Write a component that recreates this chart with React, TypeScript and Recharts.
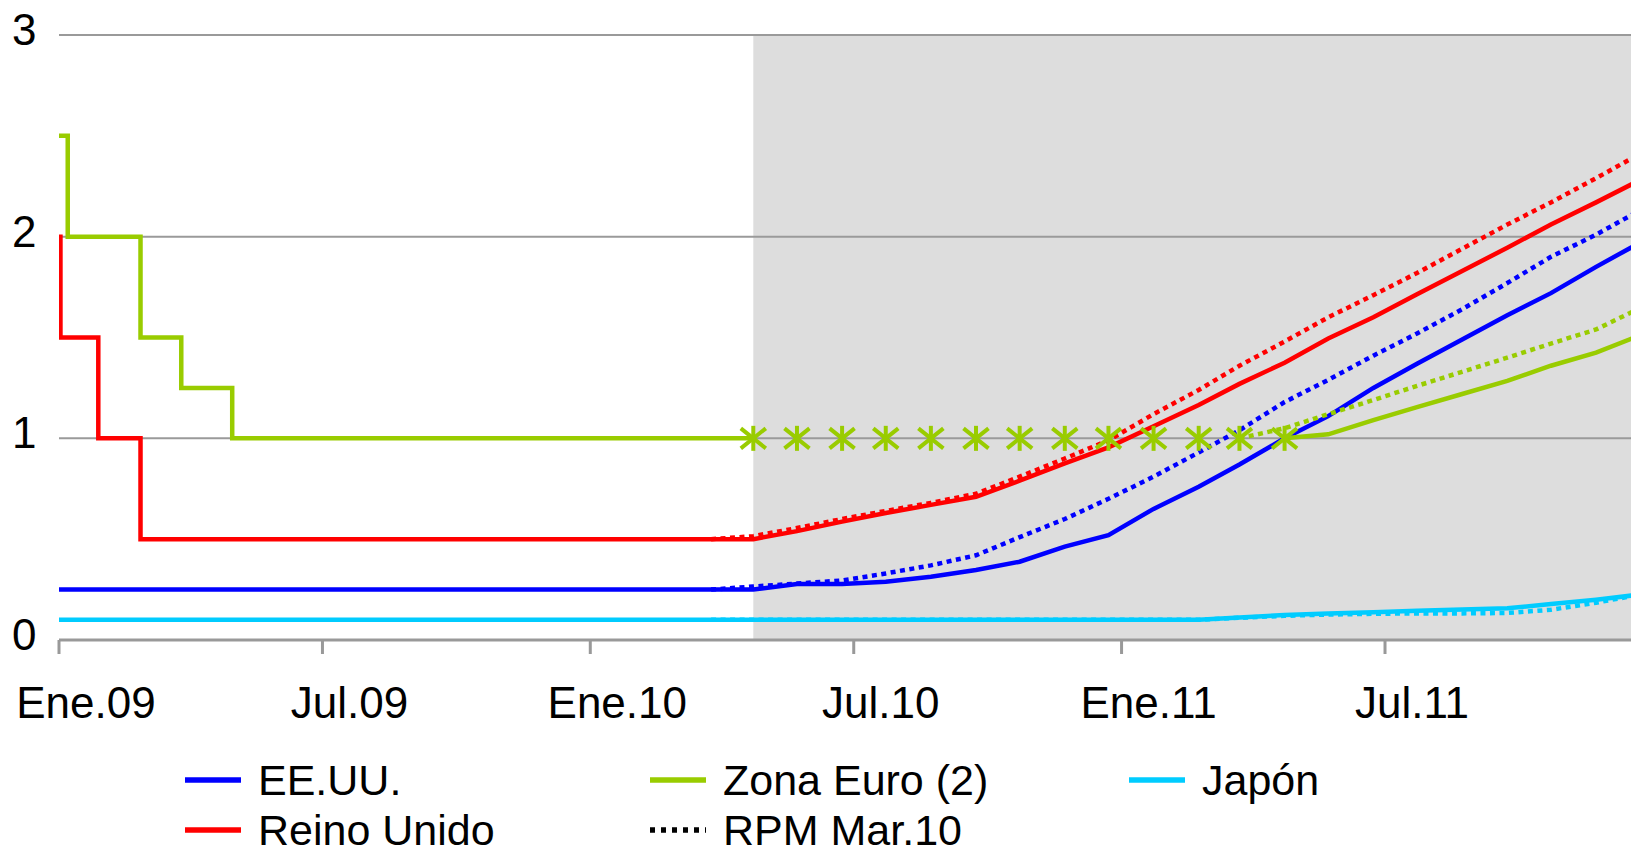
import { LineChart, Line, XAxis, YAxis, ReferenceArea, ReferenceLine } from "recharts";

const ORIGIN = Date.UTC(2009, 0, 1);
const toDay = (s: string) => (Date.parse(s + "T00:00:00Z") - ORIGIN) / 86400000;

const tickDates = ["2009-01-01", "2009-07-01", "2010-01-01", "2010-07-01", "2011-01-01", "2011-07-01"];
const tickLabels = ["Ene.09", "Jul.09", "Ene.10", "Jul.10", "Ene.11", "Jul.11"];
const yTicks = [0, 1, 2, 3];
const lastDay = 1080;

// tasas observadas: fecha del cambio y nuevo nivel
const usaSteps: [string, number][] = [["2009-01-01", 0.25]];
const ukSteps: [string, number][] = [["2009-01-01", 2.0], ["2009-01-02", 1.5], ["2009-01-28", 1.0], ["2009-02-26", 0.5]];
const euroSteps: [string, number][] = [["2009-01-01", 2.5], ["2009-01-07", 2.0], ["2009-02-26", 1.5], ["2009-03-26", 1.25], ["2009-04-30", 1.0]];
const japanSteps: [string, number][] = [["2009-01-01", 0.1]];

// curvas forward actuales (zona gris)
const forwardDates = [
  "2010-04-23", "2010-05-23", "2010-06-23", "2010-07-23", "2010-08-23", "2010-09-23", "2010-10-23",
  "2010-11-23", "2010-12-23", "2011-01-23", "2011-02-23", "2011-03-23", "2011-04-23", "2011-05-23",
  "2011-06-23", "2011-07-23", "2011-08-23", "2011-09-23", "2011-10-23", "2011-11-23", "2011-12-23",
];
const usaForward = [0.25, 0.278, 0.278, 0.289, 0.314, 0.347, 0.388, 0.463, 0.52, 0.65, 0.76, 0.87, 1.0, 1.11, 1.25, 1.37, 1.49, 1.61, 1.72, 1.85, 1.97];
const ukForward = [0.5, 0.54, 0.587, 0.63, 0.67, 0.71, 0.79, 0.876, 0.955, 1.06, 1.165, 1.27, 1.375, 1.495, 1.6, 1.715, 1.83, 1.945, 2.06, 2.17, 2.28];
const japanForward = [0.1, 0.1, 0.1, 0.1, 0.1, 0.1, 0.1, 0.1, 0.1, 0.1, 0.1, 0.112, 0.124, 0.131, 0.138, 0.145, 0.151, 0.157, 0.178, 0.2, 0.225];
const euroMarks = [1, 1, 1, 1, 1, 1, 1, 1, 1, 1, 1, 1, 1];
const euroForward = [1.0, 1.02, 1.09, 1.155, 1.22, 1.285, 1.36, 1.425, 1.51];

// RPM Mar.10 (punteadas)
const rpmDates = ["2010-03-25", ...forwardDates];
const usaRpm = [0.25, 0.265, 0.28, 0.295, 0.33, 0.37, 0.42, 0.51, 0.6, 0.7, 0.81, 0.93, 1.04, 1.18, 1.29, 1.41, 1.52, 1.64, 1.77, 1.9, 2.01, 2.13];
const ukRpm = [0.5, 0.515, 0.555, 0.6, 0.64, 0.68, 0.725, 0.81, 0.9, 0.99, 1.12, 1.24, 1.36, 1.48, 1.6, 1.71, 1.82, 1.94, 2.06, 2.17, 2.29, 2.41];
const japanRpm = [0.1, 0.1, 0.1, 0.1, 0.1, 0.1, 0.1, 0.1, 0.1, 0.1, 0.1, 0.1, 0.11, 0.12, 0.126, 0.13, 0.132, 0.132, 0.134, 0.15, 0.185, 0.225];
const euroRpm = [1.0, 1.05, 1.12, 1.19, 1.26, 1.33, 1.4, 1.47, 1.54, 1.645];

const BLUE = "#0000FF";
const RED = "#FF0000";
const GREEN = "#99CC00";
const CYAN = "#00CCFF";
const FONT = "'Liberation Sans', Arial, sans-serif";

type Pt = { day: number; v: number };

function series(steps: [string, number][], dates: string[], values: number[]): Pt[] {
  const pts: Pt[] = [];
  steps.forEach(([d, v], i) => {
    if (i > 0) pts.push({ day: toDay(d), v: steps[i - 1][1] });
    pts.push({ day: toDay(d), v });
  });
  dates.forEach((d, i) => pts.push({ day: toDay(d), v: values[i] }));
  return pts;
}

const usaData = series(usaSteps, forwardDates, usaForward);
const ukData = series(ukSteps, forwardDates, ukForward);
const japanData = series(japanSteps, forwardDates, japanForward);
const euroHist = series(euroSteps, forwardDates.slice(0, 1), euroMarks.slice(0, 1));
const euroMarkData = series([], forwardDates.slice(0, euroMarks.length), euroMarks);
const euroFwdData = series([], forwardDates.slice(12), euroForward);
const usaRpmData = series([], rpmDates, usaRpm);
const ukRpmData = series([], rpmDates, ukRpm);
const japanRpmData = series([], rpmDates, japanRpm);
const euroRpmData = series([], forwardDates.slice(11), euroRpm);

const tickDays = tickDates.map(toDay);

const XTick = ({ x, payload }: any) => {
  const i = tickDays.indexOf(payload.value);
  return (
    <text x={x + 27} y={718} textAnchor="middle" fontSize={44} fontFamily={FONT} fill="#000">
      {tickLabels[i]}
    </text>
  );
};

const YTick = ({ y, payload }: any) => (
  <text x={12} y={y + 10} fontSize={44} fontFamily={FONT} fill="#000">
    {payload.value}
  </text>
);

const Asterisk = (p: any) => {
  const { cx, cy, index } = p;
  if (cx == null || cy == null) return <g key={`a${index}`} />;
  return (
    <g key={`a${index}`} stroke={GREEN} strokeWidth={4}>
      <line x1={cx} y1={cy - 12.5} x2={cx} y2={cy + 12.5} />
      <line x1={cx - 12.5} y1={cy - 10} x2={cx + 12.5} y2={cy + 10} />
      <line x1={cx - 12.5} y1={cy + 10} x2={cx + 12.5} y2={cy - 10} />
    </g>
  );
};

const legendRows = [
  [{ name: "EE.UU.", color: BLUE, dotted: false }, { name: "Zona Euro (2)", color: GREEN, dotted: false }, { name: "Japón", color: CYAN, dotted: false }],
  [{ name: "Reino Unido", color: RED, dotted: false }, { name: "RPM Mar.10", color: "#000", dotted: true }],
];
const legendCols = [185, 650, 1129];
const legendRowY = [780, 830];

export default function App() {
  const solid = { type: "linear" as const, strokeWidth: 4.5, dot: false, activeDot: false, isAnimationActive: false };
  const dotted = { ...solid, strokeDasharray: "5 4.5" };
  return (
    <div style={{ position: "absolute", left: 0, top: 0, width: 1631, height: 855, background: "#fff", fontFamily: FONT, overflow: "hidden" }}>
      <LineChart width={1631} height={855} margin={{ top: 35, right: 0, bottom: 0, left: 0 }}>
        <XAxis
          type="number"
          dataKey="day"
          domain={[0, lastDay]}
          allowDataOverflow
          ticks={tickDays}
          interval={0}
          height={215}
          tickSize={14}
          tickLine={{ stroke: "#999", strokeWidth: 3 }}
          axisLine={{ stroke: "#999", strokeWidth: 3 }}
          tick={<XTick />}
        />
        <YAxis type="number" domain={[0, 3]} ticks={yTicks} width={59} axisLine={false} tickLine={false} tick={<YTick />} />
        <ReferenceArea x1={forwardDates.map(toDay)[0]} x2={lastDay} y1={0} y2={3} fill="#DDDDDD" fillOpacity={1} stroke="none" />
        {yTicks.slice(1).map((t) => (
          <ReferenceLine key={t} y={t} stroke="#9a9a9a" strokeWidth={2} />
        ))}
        <Line data={usaData} dataKey="v" stroke={BLUE} {...solid} />
        <Line data={ukData} dataKey="v" stroke={RED} {...solid} />
        <Line data={euroHist} dataKey="v" stroke={GREEN} {...solid} />
        <Line data={euroFwdData} dataKey="v" stroke={GREEN} {...solid} />
        <Line data={japanData} dataKey="v" stroke={CYAN} {...solid} />
        <Line data={usaRpmData} dataKey="v" stroke={BLUE} {...dotted} />
        <Line data={ukRpmData} dataKey="v" stroke={RED} {...dotted} />
        <Line data={euroRpmData} dataKey="v" stroke={GREEN} {...dotted} />
        <Line data={japanRpmData} dataKey="v" stroke={CYAN} {...dotted} />
        <Line data={euroMarkData} dataKey="v" stroke="none" strokeWidth={0} dot={Asterisk} activeDot={false} isAnimationActive={false} />
      </LineChart>
      {legendRows.map((row, r) =>
        row.map((it, c) => (
          <div
            key={it.name}
            style={{ position: "absolute", left: legendCols[c], top: legendRowY[r] - 20, height: 40, display: "flex", alignItems: "center" }}
          >
            <svg width={56} height={8} style={{ display: "block" }}>
              <line x1={0} y1={4} x2={56} y2={4} stroke={it.color} strokeWidth={5.5} strokeDasharray={it.dotted ? "5 6" : undefined} />
            </svg>
            <span style={{ marginLeft: 17, fontSize: 43, lineHeight: "40px", color: "#000", whiteSpace: "nowrap" }}>{it.name}</span>
          </div>
        ))
      )}
    </div>
  );
}
